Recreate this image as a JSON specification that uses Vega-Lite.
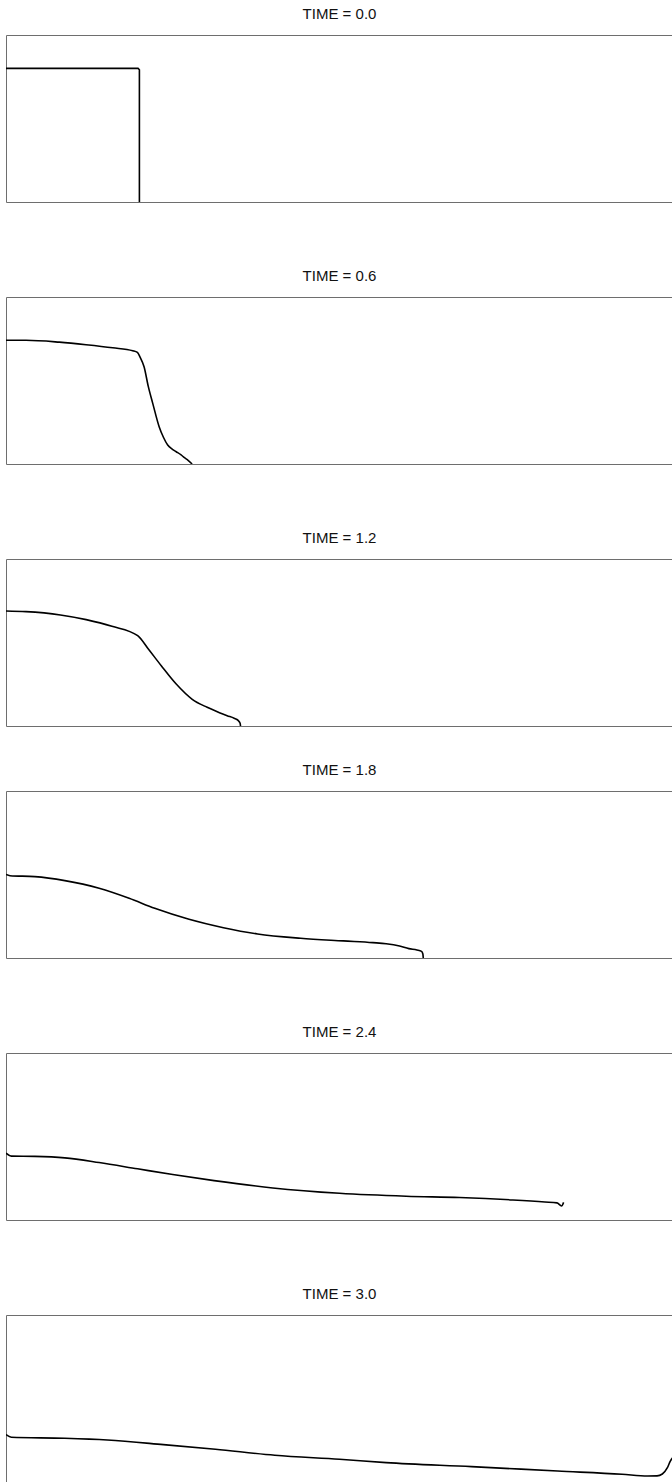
{
  "$schema": "https://vega.github.io/schema/vega-lite/v6.json",
  "padding": {"left": 5, "top": 6, "right": 0, "bottom": 0},
  "background": "white",
  "config": {
    "view": {"stroke": "#6e6e6e", "strokeWidth": 1},
    "title": {"font": "Liberation Sans", "fontSize": 15, "fontWeight": "normal", "color": "#111111", "offset": 13}
  },
  "data": {"values": [
    {"p": "0.0", "i": 0, "x": 0, "y": 1.0},
    {"p": "0.0", "i": 1, "x": 0.99, "y": 1.0},
    {"p": "0.0", "i": 2, "x": 1.0, "y": 0.99},
    {"p": "0.0", "i": 3, "x": 1.0, "y": 0},

    {"p": "0.6", "i": 0, "x": 0, "y": 0.926},
    {"p": "0.6", "i": 1, "x": 0.15, "y": 0.926},
    {"p": "0.6", "i": 2, "x": 0.4, "y": 0.912},
    {"p": "0.6", "i": 3, "x": 0.6, "y": 0.893},
    {"p": "0.6", "i": 4, "x": 0.8, "y": 0.87},
    {"p": "0.6", "i": 5, "x": 0.95, "y": 0.848},
    {"p": "0.6", "i": 6, "x": 0.985, "y": 0.835},
    {"p": "0.6", "i": 7, "x": 1.005, "y": 0.8},
    {"p": "0.6", "i": 8, "x": 1.035, "y": 0.728},
    {"p": "0.6", "i": 9, "x": 1.067, "y": 0.579},
    {"p": "0.6", "i": 10, "x": 1.1, "y": 0.454},
    {"p": "0.6", "i": 11, "x": 1.148, "y": 0.279},
    {"p": "0.6", "i": 12, "x": 1.18, "y": 0.2},
    {"p": "0.6", "i": 13, "x": 1.212, "y": 0.142},
    {"p": "0.6", "i": 14, "x": 1.245, "y": 0.112},
    {"p": "0.6", "i": 15, "x": 1.276, "y": 0.092},
    {"p": "0.6", "i": 16, "x": 1.31, "y": 0.07},
    {"p": "0.6", "i": 17, "x": 1.338, "y": 0.047},
    {"p": "0.6", "i": 18, "x": 1.365, "y": 0.028},
    {"p": "0.6", "i": 19, "x": 1.395, "y": 0},

    {"p": "1.2", "i": 0, "x": 0, "y": 0.861},
    {"p": "1.2", "i": 1, "x": 0.15, "y": 0.856},
    {"p": "1.2", "i": 2, "x": 0.408, "y": 0.831},
    {"p": "1.2", "i": 3, "x": 0.601, "y": 0.796},
    {"p": "1.2", "i": 4, "x": 0.794, "y": 0.746},
    {"p": "1.2", "i": 5, "x": 0.987, "y": 0.676},
    {"p": "1.2", "i": 6, "x": 1.067, "y": 0.576},
    {"p": "1.2", "i": 7, "x": 1.164, "y": 0.451},
    {"p": "1.2", "i": 8, "x": 1.276, "y": 0.314},
    {"p": "1.2", "i": 9, "x": 1.396, "y": 0.2},
    {"p": "1.2", "i": 10, "x": 1.508, "y": 0.14},
    {"p": "1.2", "i": 11, "x": 1.6, "y": 0.1},
    {"p": "1.2", "i": 12, "x": 1.658, "y": 0.077},
    {"p": "1.2", "i": 13, "x": 1.71, "y": 0.058},
    {"p": "1.2", "i": 14, "x": 1.74, "y": 0.042},
    {"p": "1.2", "i": 15, "x": 1.755, "y": 0.02},
    {"p": "1.2", "i": 16, "x": 1.758, "y": 0},

    {"p": "1.8", "i": 0, "x": 0, "y": 0.625},
    {"p": "1.8", "i": 1, "x": 0.03, "y": 0.616},
    {"p": "1.8", "i": 2, "x": 0.216, "y": 0.609},
    {"p": "1.8", "i": 3, "x": 0.441, "y": 0.579},
    {"p": "1.8", "i": 4, "x": 0.698, "y": 0.522},
    {"p": "1.8", "i": 5, "x": 0.923, "y": 0.447},
    {"p": "1.8", "i": 6, "x": 1.115, "y": 0.372},
    {"p": "1.8", "i": 7, "x": 1.372, "y": 0.29},
    {"p": "1.8", "i": 8, "x": 1.63, "y": 0.227},
    {"p": "1.8", "i": 9, "x": 1.886, "y": 0.18},
    {"p": "1.8", "i": 10, "x": 2.208, "y": 0.148},
    {"p": "1.8", "i": 11, "x": 2.529, "y": 0.128},
    {"p": "1.8", "i": 12, "x": 2.75, "y": 0.115},
    {"p": "1.8", "i": 13, "x": 2.85, "y": 0.107},
    {"p": "1.8", "i": 14, "x": 2.95, "y": 0.09},
    {"p": "1.8", "i": 15, "x": 3.02, "y": 0.07},
    {"p": "1.8", "i": 16, "x": 3.08, "y": 0.06},
    {"p": "1.8", "i": 17, "x": 3.115, "y": 0.05},
    {"p": "1.8", "i": 18, "x": 3.125, "y": 0.03},
    {"p": "1.8", "i": 19, "x": 3.128, "y": 0},

    {"p": "2.4", "i": 0, "x": 0, "y": 0.5},
    {"p": "2.4", "i": 1, "x": 0.04, "y": 0.478},
    {"p": "2.4", "i": 2, "x": 0.216, "y": 0.476},
    {"p": "2.4", "i": 3, "x": 0.441, "y": 0.465},
    {"p": "2.4", "i": 4, "x": 0.698, "y": 0.43},
    {"p": "2.4", "i": 5, "x": 0.986, "y": 0.383},
    {"p": "2.4", "i": 6, "x": 1.25, "y": 0.34},
    {"p": "2.4", "i": 7, "x": 1.56, "y": 0.295},
    {"p": "2.4", "i": 8, "x": 2.0, "y": 0.24},
    {"p": "2.4", "i": 9, "x": 2.5, "y": 0.2},
    {"p": "2.4", "i": 10, "x": 3.0, "y": 0.178},
    {"p": "2.4", "i": 11, "x": 3.4, "y": 0.168},
    {"p": "2.4", "i": 12, "x": 3.8, "y": 0.15},
    {"p": "2.4", "i": 13, "x": 4.04, "y": 0.135},
    {"p": "2.4", "i": 14, "x": 4.13, "y": 0.128},
    {"p": "2.4", "i": 15, "x": 4.165, "y": 0.105},
    {"p": "2.4", "i": 16, "x": 4.18, "y": 0.132},

    {"p": "3.0", "i": 0, "x": 0, "y": 0.355},
    {"p": "3.0", "i": 1, "x": 0.04, "y": 0.335},
    {"p": "3.0", "i": 2, "x": 0.44, "y": 0.327},
    {"p": "3.0", "i": 3, "x": 0.76, "y": 0.314},
    {"p": "3.0", "i": 4, "x": 1.18, "y": 0.28},
    {"p": "3.0", "i": 5, "x": 1.57, "y": 0.245},
    {"p": "3.0", "i": 6, "x": 2.015, "y": 0.2},
    {"p": "3.0", "i": 7, "x": 2.5, "y": 0.17},
    {"p": "3.0", "i": 8, "x": 2.85, "y": 0.145},
    {"p": "3.0", "i": 9, "x": 3.49, "y": 0.115},
    {"p": "3.0", "i": 10, "x": 4.135, "y": 0.082},
    {"p": "3.0", "i": 11, "x": 4.618, "y": 0.058},
    {"p": "3.0", "i": 12, "x": 4.81, "y": 0.045},
    {"p": "3.0", "i": 13, "x": 4.88, "y": 0.046},
    {"p": "3.0", "i": 14, "x": 4.92, "y": 0.06},
    {"p": "3.0", "i": 15, "x": 4.958, "y": 0.107},
    {"p": "3.0", "i": 16, "x": 4.98, "y": 0.157},
    {"p": "3.0", "i": 17, "x": 5.0, "y": 0.185}
  ]},
  "spacing": 35,
  "vconcat": [
    {
      "spacing": 65,
      "vconcat": [
        {
          "title": "TIME = 0.0", "width": 667, "height": 167,
          "transform": [{"filter": "datum.p == '0.0'"}],
          "mark": {"type": "line", "color": "black", "strokeWidth": 1.6, "clip": true},
          "encoding": {
            "x": {"field": "x", "type": "quantitative", "scale": {"domain": [0, 5], "nice": false, "zero": false}, "axis": null},
            "y": {"field": "y", "type": "quantitative", "scale": {"domain": [0, 1.25], "nice": false}, "axis": null},
            "order": {"field": "i"}
          }
        },
        {
          "title": "TIME = 0.6", "width": 667, "height": 167,
          "transform": [{"filter": "datum.p == '0.6'"}],
          "mark": {"type": "line", "color": "black", "strokeWidth": 1.6, "interpolate": "monotone", "clip": true},
          "encoding": {
            "x": {"field": "x", "type": "quantitative", "scale": {"domain": [0, 5], "nice": false, "zero": false}, "axis": null},
            "y": {"field": "y", "type": "quantitative", "scale": {"domain": [0, 1.25], "nice": false}, "axis": null},
            "order": {"field": "i"}
          }
        },
        {
          "title": "TIME = 1.2", "width": 667, "height": 167,
          "transform": [{"filter": "datum.p == '1.2'"}],
          "mark": {"type": "line", "color": "black", "strokeWidth": 1.6, "interpolate": "monotone", "clip": true},
          "encoding": {
            "x": {"field": "x", "type": "quantitative", "scale": {"domain": [0, 5], "nice": false, "zero": false}, "axis": null},
            "y": {"field": "y", "type": "quantitative", "scale": {"domain": [0, 1.25], "nice": false}, "axis": null},
            "order": {"field": "i"}
          }
        }
      ]
    },
    {
      "spacing": 65,
      "vconcat": [
        {
          "title": "TIME = 1.8", "width": 667, "height": 167,
          "transform": [{"filter": "datum.p == '1.8'"}],
          "mark": {"type": "line", "color": "black", "strokeWidth": 1.6, "interpolate": "monotone", "clip": true},
          "encoding": {
            "x": {"field": "x", "type": "quantitative", "scale": {"domain": [0, 5], "nice": false, "zero": false}, "axis": null},
            "y": {"field": "y", "type": "quantitative", "scale": {"domain": [0, 1.25], "nice": false}, "axis": null},
            "order": {"field": "i"}
          }
        },
        {
          "title": "TIME = 2.4", "width": 667, "height": 167,
          "transform": [{"filter": "datum.p == '2.4'"}],
          "mark": {"type": "line", "color": "black", "strokeWidth": 1.6, "interpolate": "monotone", "clip": true},
          "encoding": {
            "x": {"field": "x", "type": "quantitative", "scale": {"domain": [0, 5], "nice": false, "zero": false}, "axis": null},
            "y": {"field": "y", "type": "quantitative", "scale": {"domain": [0, 1.25], "nice": false}, "axis": null},
            "order": {"field": "i"}
          }
        },
        {
          "title": "TIME = 3.0", "width": 667, "height": 167,
          "transform": [{"filter": "datum.p == '3.0'"}],
          "mark": {"type": "line", "color": "black", "strokeWidth": 1.6, "interpolate": "monotone", "clip": true},
          "encoding": {
            "x": {"field": "x", "type": "quantitative", "scale": {"domain": [0, 5], "nice": false, "zero": false}, "axis": null},
            "y": {"field": "y", "type": "quantitative", "scale": {"domain": [0, 1.25], "nice": false}, "axis": null},
            "order": {"field": "i"}
          }
        }
      ]
    }
  ]
}
